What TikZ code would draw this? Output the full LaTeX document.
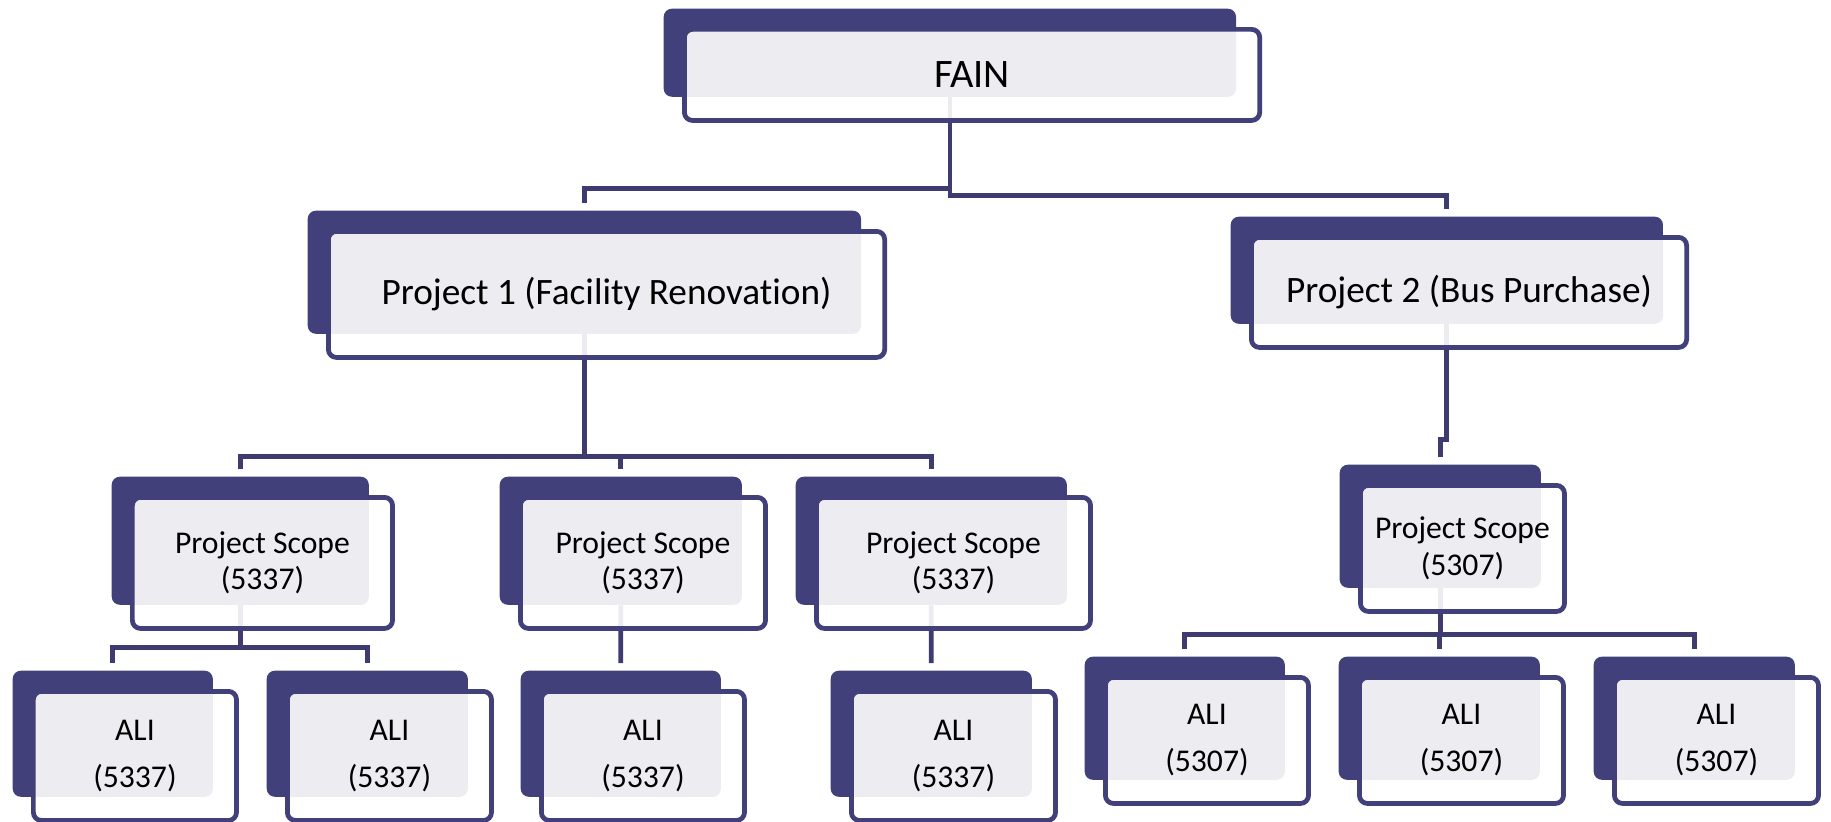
\documentclass[tikz,border=0pt]{standalone}
\usepackage{fontspec}
\setmainfont{Carlito}[Ligatures=NoCommon]
\usetikzlibrary{positioning,calc}
\definecolor{slate}{RGB}{65,64,122}
\definecolor{slateline}{RGB}{61,59,112}

\begin{document}
\begin{tikzpicture}[
  x=0.01cm,y=-0.01cm,
  back/.style={fill=slate,rounded corners=2.3pt,inner sep=0pt,anchor=north west},
  face/.style={draw=slate,line width=1.35pt,fill=white,fill opacity=0.9,text opacity=1,
               rounded corners=2.3pt,inner sep=0pt,anchor=north west,align=center},
  link/.style={draw=slateline,line width=1.35pt},
  topf/.style={font=\fontsize{11.5}{13}\selectfont},
  projf/.style={font=\fontsize{10.6}{12}\selectfont},
  scopef/.style={font=\fontsize{9}{10.3}\selectfont},
  alif/.style={font=\fontsize{9}{13.3}\selectfont}
]
\useasboundingbox (0,0) rectangle (1831,821);

% ---- dark backing cards ----
\node[back,minimum width=5.72cm,minimum height=0.88cm] (fainB) at (663,8) {};
\node[back,minimum width=5.53cm,minimum height=1.23cm] (p1B) at (307,210) {};
\node[back,minimum width=4.32cm,minimum height=1.07cm] (p2B) at (1230,216) {};
\node[back,minimum width=2.57cm,minimum height=1.28cm] (ps1B) at (111,476) {};
\node[back,minimum width=2.42cm,minimum height=1.28cm] (ps2B) at (499,476) {};
\node[back,minimum width=2.71cm,minimum height=1.28cm] (ps3B) at (795,476) {};
\node[back,minimum width=2.01cm,minimum height=1.23cm] (ps4B) at (1339,464) {};
\node[back,minimum width=2.00cm,minimum height=1.26cm] (ali1B) at (12,670) {};
\node[back,minimum width=2.01cm,minimum height=1.26cm] (ali2B) at (266,670) {};
\node[back,minimum width=2.00cm,minimum height=1.26cm] (ali3B) at (520,670) {};
\node[back,minimum width=2.01cm,minimum height=1.26cm] (ali4B) at (830,670) {};
\node[back,minimum width=2.00cm,minimum height=1.23cm] (ali5B) at (1084,656) {};
\node[back,minimum width=2.01cm,minimum height=1.23cm] (ali6B) at (1338,656) {};
\node[back,minimum width=2.01cm,minimum height=1.23cm] (ali7B) at (1593,656) {};

% ---- elbow connectors ----
\draw[link] (fainB.south) -- ++(0,91) -| ([shift={(0,-7)}]p1B.north);
\draw[link] (fainB.south) -- ++(0,98) -| ([shift={(0,-7)}]p2B.north);
\draw[link] (p1B.south) -- ++(0,122) -| ([shift={(0,-7)}]ps1B.north);
\draw[link] (p1B.south) -- ++(0,122) -| ([shift={(0,-7)}]ps2B.north);
\draw[link] (p1B.south) -- ++(0,122) -| ([shift={(0,-7)}]ps3B.north);
\draw[link] (p2B.south) -- ++(0,115) -| ([shift={(0,-7)}]ps4B.north);
\draw[link] (ps1B.south) -- ++(0,42) -| ([shift={(0,-7)}]ali1B.north);
\draw[link] (ps1B.south) -- ++(0,42) -| ([shift={(0,-7)}]ali2B.north);
\draw[link] (ps2B.south) -- ([shift={(0,-7)}]ali3B.north);
\draw[link] (ps3B.south) -- ([shift={(0,-7)}]ali4B.north);
\draw[link] (ps4B.south) -- ++(0,46) -| ([shift={(0,-7)}]ali5B.north);
\draw[link] (ps4B.south) -- ++(0,46) -| ([shift={(0,-7)}]ali6B.north);
\draw[link] (ps4B.south) -- ++(0,46) -| ([shift={(0,-7)}]ali7B.north);

% ---- front cards with the text ----
\node[face,topf,minimum width=5.75cm,minimum height=0.91cm] (fain) at ([shift={(19,19)}]fainB.north west) {FAIN};
\node[face,projf,minimum width=5.56cm,minimum height=1.26cm] (p1) at ([shift={(19,19)}]p1B.north west) {Project 1 (Facility Renovation)};
\node[face,projf,minimum width=4.35cm,minimum height=1.10cm] (p2) at ([shift={(19,19)}]p2B.north west) {Project 2 (Bus Purchase)};
\node[face,scopef,minimum width=2.60cm,minimum height=1.31cm] (ps1) at ([shift={(19,19)}]ps1B.north west) {Project Scope\\(5337)};
\node[face,scopef,minimum width=2.45cm,minimum height=1.31cm] (ps2) at ([shift={(19,19)}]ps2B.north west) {Project Scope\\(5337)};
\node[face,scopef,minimum width=2.74cm,minimum height=1.31cm] (ps3) at ([shift={(19,19)}]ps3B.north west) {Project Scope\\(5337)};
\node[face,scopef,minimum width=2.04cm,minimum height=1.26cm] (ps4) at ([shift={(19,19)}]ps4B.north west) {Project Scope\\(5307)};
\node[face,alif,minimum width=2.03cm,minimum height=1.29cm] (ali1) at ([shift={(19,19)}]ali1B.north west) {ALI\\(5337)};
\node[face,alif,minimum width=2.04cm,minimum height=1.29cm] (ali2) at ([shift={(19,19)}]ali2B.north west) {ALI\\(5337)};
\node[face,alif,minimum width=2.03cm,minimum height=1.29cm] (ali3) at ([shift={(19,19)}]ali3B.north west) {ALI\\(5337)};
\node[face,alif,minimum width=2.04cm,minimum height=1.29cm] (ali4) at ([shift={(19,19)}]ali4B.north west) {ALI\\(5337)};
\node[face,alif,minimum width=2.03cm,minimum height=1.26cm] (ali5) at ([shift={(19,19)}]ali5B.north west) {ALI\\(5307)};
\node[face,alif,minimum width=2.04cm,minimum height=1.26cm] (ali6) at ([shift={(19,19)}]ali6B.north west) {ALI\\(5307)};
\node[face,alif,minimum width=2.04cm,minimum height=1.26cm] (ali7) at ([shift={(19,19)}]ali7B.north west) {ALI\\(5307)};

\end{tikzpicture}
\end{document}
